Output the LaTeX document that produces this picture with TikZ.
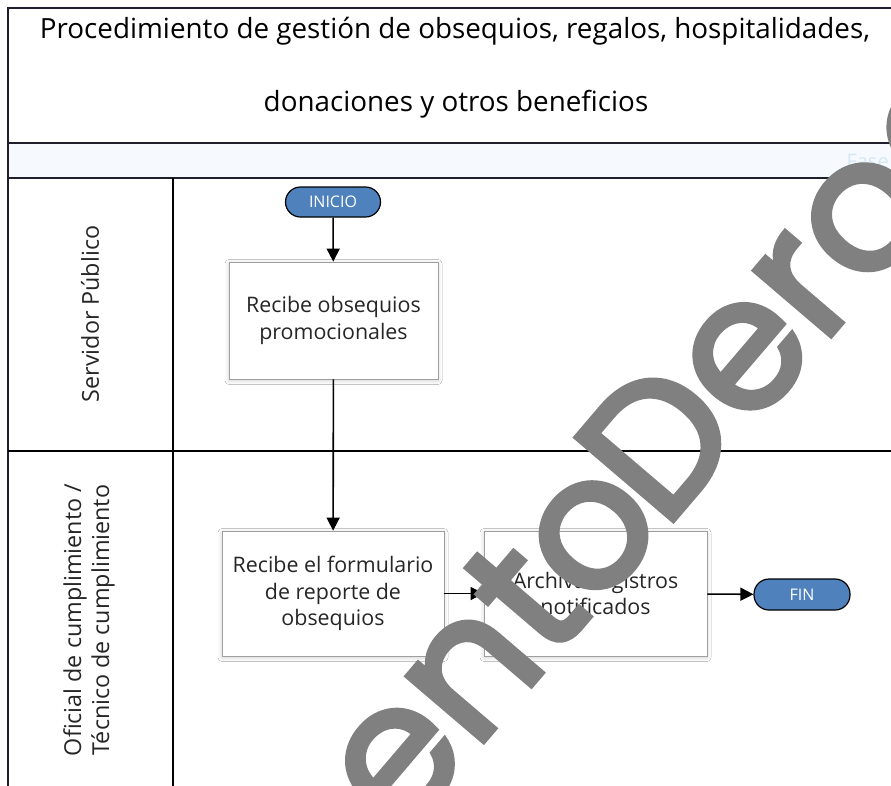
\documentclass[tikz,border=0pt]{standalone}
\usepackage{fontspec}
\setmainfont{Open Sans}
\newfontfamily\wmfont{Poppins}[FakeBold=3]
\usetikzlibrary{arrows.meta,shadows.blur}
\definecolor{pillblue}{RGB}{79,129,189}
\definecolor{framec}{RGB}{30,30,45}
\definecolor{stripc}{RGB}{246,249,253}
\definecolor{wmgray}{RGB}{128,128,128}
\definecolor{fasec}{RGB}{215,232,245}
\tikzset{
  frameline/.style={draw=framec, line width=1.3pt},
  procbox/.style={draw=gray!75, line width=0.8pt, fill=white, minimum width=209pt, minimum height=117pt,
     align=center, font=\fontsize{21.4}{26.5}\selectfont, text=black!85,
     blur shadow={shadow xshift=0pt, shadow yshift=-1.5pt, shadow blur steps=5, shadow opacity=20, shadow blur radius=4pt}},
  pill/.style={draw=black, line width=1.2pt, fill=pillblue, rounded corners=15pt, minimum width=95pt, minimum height=30pt,
     text=white, font=\fontsize{16}{18}\selectfont, inner sep=0pt},
  flow/.style={draw=black, line width=1.6pt, -{Triangle[length=13pt,width=13pt]}},
  lanelabel/.style={rotate=90, align=center, font=\fontsize{23.3}{28}\selectfont, text=black!85},
  wmtext/.style={rotate=49.5, inner sep=0pt, text=wmgray, font=\wmfont\fontsize{183}{183}\selectfont},
}
\begin{document}
\begin{tikzpicture}[x=1pt,y=-1pt]
\useasboundingbox (0,0) rectangle (891,785);
\begin{scope}
\clip (0,0) rectangle (891,785);
\fill[white] (0,0) rectangle (891,785);
% strip
\fill[stripc] (8,143) rectangle (900,178);
% frame
\draw[frameline] (8,790) -- (8,8) -- (900,8);
\draw[frameline] (8,143) -- (900,143);
\draw[frameline] (8,178) -- (900,178);
\draw[draw=black, line width=1.2pt] (8,451) -- (900,451);
\draw[draw=black, line width=1.2pt] (173,178) -- (173,790);
% title
\node[font=\fontsize{27.8}{32}\selectfont, text=black] (t1) at (455,31) {Procedimiento de gestión de obsequios, regalos, hospitalidades,};
\node[font=\fontsize{27.8}{32}\selectfont, text=black] (t2) at (456,104) {donaciones y otros beneficios};
\node[anchor=west, font=\fontsize{20}{22}\selectfont, text=fasec] (fase) at (843,161) {Fase};
% lane labels
\node[lanelabel] (l1) at (90,314) {Servidor Público};
\node[lanelabel] (l2) at (89,620) {Oficial de cumplimiento /\\Técnico de cumplimiento};
% nodes
\node[pill] (inicio) at (333,202) {INICIO};
\node[procbox] (b1) at (333.5,320.5) {Recibe obsequios\\promocionales};
\node[procbox, minimum width=222pt, minimum height=125pt] (b2) at (333,593.5) {Recibe el formulario\\de reporte de\\obsequios};
\node[procbox, minimum width=223pt, minimum height=125pt] (b3) at (595.5,593.5) {Archiva registros\\notificados};
\node[pill, minimum width=96pt, minimum height=31pt] (fin) at (802,594.5) {FIN};
% connectors
\draw[flow] (inicio) -- (b1);
\draw[flow] (b1) -- (b2);
\draw[flow] (b2) -- (b3);
\draw[flow] (b3) -- (fin);
% watermark
\coordinate (wm) at (664,531);
\coordinate (wmb) at (670,523);
\node[wmtext, anchor=base west] (wm2) at (wm) {Derogado};
\node[wmtext, anchor=base east] (wm1) at (wmb) {Documento\ };
\end{scope}
\end{tikzpicture}
\end{document}
